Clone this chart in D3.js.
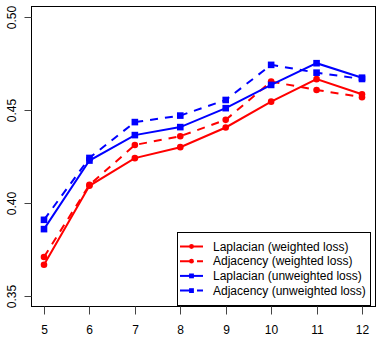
<!DOCTYPE html>
<meta charset="utf-8">
<style type="text/css">
body { margin: 0; background: #fff; }
text { font-family: "Liberation Sans", Arial, sans-serif; font-size: 12px; fill: #000; }
.frame { fill: none; stroke: #000; stroke-width: 1; }
.tick { stroke: #444; stroke-width: 1; }
.series { fill: none; stroke-width: 2; }
</style>
<svg width="382" height="339"></svg>
<script src="https://d3js.org/d3.v7.min.js"></script>
<script>

// data
var sizes = [5, 6, 7, 8, 9, 10, 11, 12];
var lapWeighted   = [0.3668, 0.4093, 0.4242, 0.4301, 0.4407, 0.4546, 0.4667, 0.4586];
var adjWeighted   = [0.3710, 0.4098, 0.4313, 0.4360, 0.4448, 0.4654, 0.4609, 0.4570];
var lapUnweighted = [0.3860, 0.4229, 0.4366, 0.4409, 0.4511, 0.4636, 0.4753, 0.4675];
var adjUnweighted = [0.3910, 0.4243, 0.4436, 0.4471, 0.4555, 0.4744, 0.4702, 0.4668];
var yTicks = [0.35, 0.40, 0.45, 0.50];
var labels = ["Laplacian (weighted loss)", "Adjacency (weighted loss)",
              "Laplacian (unweighted loss)", "Adjacency (unweighted loss)"];

var series = [
  { name: labels[0], vals: lapWeighted,   color: "#ff0000", dash: null,  shape: "circle" },
  { name: labels[1], vals: adjWeighted,   color: "#ff0000", dash: "8,7", shape: "circle" },
  { name: labels[2], vals: lapUnweighted, color: "#0000ff", dash: null,  shape: "square" },
  { name: labels[3], vals: adjUnweighted, color: "#0000ff", dash: "8,7", shape: "square" }
];

var svg = d3.select("svg");

var box = { left: 31.5, right: 375.5, top: 6.5, bottom: 306.5 };

var x = d3.scaleLinear().domain([5, 12]).range([44, 362]);
var y = d3.scaleLinear().domain([0.35, 0.50]).range([296, 17.3]);

// frame
svg.append("rect").attr("class", "frame")
   .attr("x", box.left).attr("y", box.top)
   .attr("width", box.right - box.left).attr("height", box.bottom - box.top);

// x axis
var xg = svg.append("g");
sizes.forEach(function(s){
  var px = Math.round(x(s)) + 0.5;
  xg.append("line").attr("class", "tick")
    .attr("x1", px).attr("x2", px).attr("y1", box.bottom).attr("y2", box.bottom + 8);
  xg.append("text").attr("x", px).attr("y", 334)
    .attr("text-anchor", "middle").text(s);
});

// y axis, rotated labels
var yg = svg.append("g");
yTicks.forEach(function(t){
  var py = Math.round(y(t)) + 0.5;
  yg.append("line").attr("class", "tick")
    .attr("x1", box.left - 7).attr("x2", box.left).attr("y1", py).attr("y2", py);
  yg.append("text")
    .attr("transform", "translate(16," + py + ") rotate(-90)")
    .attr("text-anchor", "middle").text(d3.format(".2f")(t));
});

var line = d3.line()
  .x(function(d, i){ return x(sizes[i]); })
  .y(function(d){ return y(d); });

function drawMarker(sel, shape, color, px, py, r){
  if (shape === "circle") {
    sel.append("circle").attr("cx", px).attr("cy", py).attr("r", r).attr("fill", color);
  } else {
    sel.append("rect").attr("x", px - r).attr("y", py - r)
       .attr("width", 2 * r).attr("height", 2 * r).attr("fill", color);
  }
}

series.forEach(function(s){
  var g = svg.append("g");
  g.append("path").datum(s.vals).attr("class", "series")
   .attr("stroke", s.color).attr("stroke-dasharray", s.dash).attr("d", line);
  s.vals.forEach(function(v, i){
    drawMarker(g, s.shape, s.color, x(sizes[i]), y(v), 3.3);
  });
});

// legend
var lg = svg.append("g");
lg.append("rect").attr("x", 177.5).attr("y", 232.5).attr("width", 193).attr("height", 73)
  .attr("fill", "#fff").attr("stroke", "#000");
series.forEach(function(s, i){
  var ly = 246.5 + i * 14.7;
  lg.append("line").attr("x1", 180).attr("x2", 203).attr("y1", ly).attr("y2", ly)
    .attr("stroke", s.color).attr("stroke-width", 2).attr("stroke-dasharray", s.dash ? "13,4" : null);
  drawMarker(lg, s.shape, s.color, 191.5, ly, 2.4);
  lg.append("text").attr("x", 213).attr("y", ly + 4.2).text(s.name);
});

</script>
